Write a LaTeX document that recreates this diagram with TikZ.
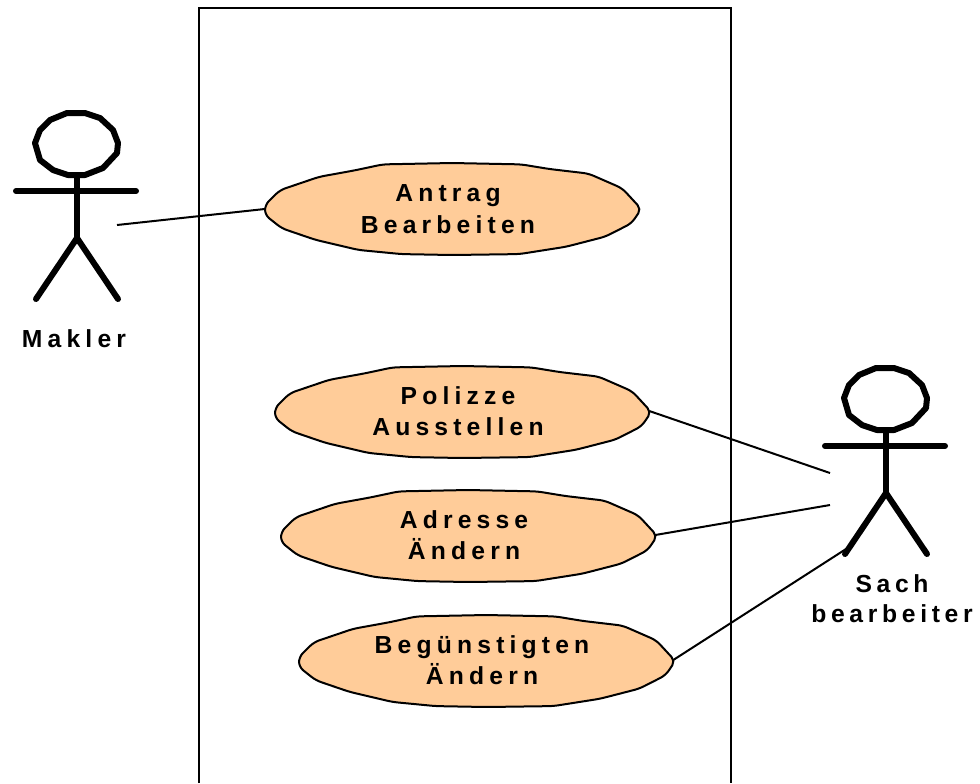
\documentclass[tikz,border=0pt]{standalone}
\usepackage{fontspec}
\setmainfont{Liberation Sans}[LetterSpace=21]
\usetikzlibrary{shapes.geometric}
\definecolor{usefill}{HTML}{FFCC99}
\newcommand{\tl}{\kern6pt}
\tikzset{
  usecase/.style={ellipse,minimum width=280.5pt,minimum height=69pt,inner sep=0pt,align=center,font=\fontsize{18.5}{23.5}\selectfont\bfseries},
  actorlabel/.style={inner sep=0pt,align=center,font=\fontsize{18.5}{22.5}\selectfont\bfseries},
  assoc/.style={line width=1.5pt,draw=black},
  boundary/.style={line width=1.5pt,draw=black},
  stick/.style={line width=4.5pt,draw=black,line cap=round,line join=round},
  pics/casebody/.style={code={
    \draw[line width=1.5pt,fill=usefill,line join=round,rounded corners=4pt,x=140.25pt,y=-34.5pt]
      (0,-1) -- (.37,-.97) -- (.52,-.87) -- (.73,-.77) -- (.91,-.45) -- (1.012,0) -- (.96,.31) -- (.82,.6) -- (.61,.82) -- (.36,.98) -- (0,1) -- (-.27,.98) -- (-.5,.89) -- (-.73,.67) -- (-.91,.42) -- (-1,.13) -- (-1,-.09) -- (-.92,-.41) -- (-.71,-.7) -- (-.52,-.84) -- (-.37,-.97) -- cycle;
  }},
  pics/actor/.style={code={
    \draw[stick] (-10,-125) -- (8,-125) -- (23,-120) -- (36,-108) -- (41,-95) -- (40,-85) -- (26,-70) -- (8,-63) -- (-9,-63) -- (-24,-68) -- (-37,-78) -- (-42,-95) -- (-37,-108) -- (-27,-118) -- cycle;
    \draw[stick] (0,-63) -- (0,0);
    \draw[stick] (-61,-47) -- (59,-47);
    \draw[stick] (-41,61) -- (0,0) -- (41,61);
  }}
}
\begin{document}
\begin{tikzpicture}[x=0.75pt,y=-0.75pt]
\useasboundingbox (0,0) rectangle (980,783);
\draw[boundary] (199,783) -- (199,8) -- (731,8) -- (731,783);
\pic at (77,238) {actor};
\pic at (886,493) {actor};
\pic at (452,209) {casebody};
\pic at (462,412) {casebody};
\pic at (468,536) {casebody};
\pic at (486,661) {casebody};
\node[usecase] (antrag) at (452,209) {Antrag\tl\\Bearbeiten\tl};
\node[usecase] (polizze) at (462,411) {Polizze\tl\\Ausstellen\tl};
\node[usecase] (adresse) at (468,535) {Adresse\tl\\Ändern\tl};
\node[usecase] (beg) at (486,660) {Begünstigten\tl\\Ändern\tl};
\node[actorlabel] (makler) at (78,339) {Makler\tl};
\node[actorlabel] (sach) at (896,599) {\addfontfeature{LetterSpace=19}Sach\tl\\\addfontfeature{LetterSpace=19}bearbeiter\tl};
\coordinate (maklerend) at (117,225);
\coordinate (sachA) at (830,473);
\coordinate (sachB) at (830,505);
\coordinate (sachC) at (846,549);
\draw[assoc] (maklerend) -- (antrag.west);
\draw[assoc] (polizze.east) -- (sachA);
\draw[assoc] (adresse.east) -- (sachB);
\draw[assoc] (beg.east) -- (sachC);
\end{tikzpicture}
\end{document}
